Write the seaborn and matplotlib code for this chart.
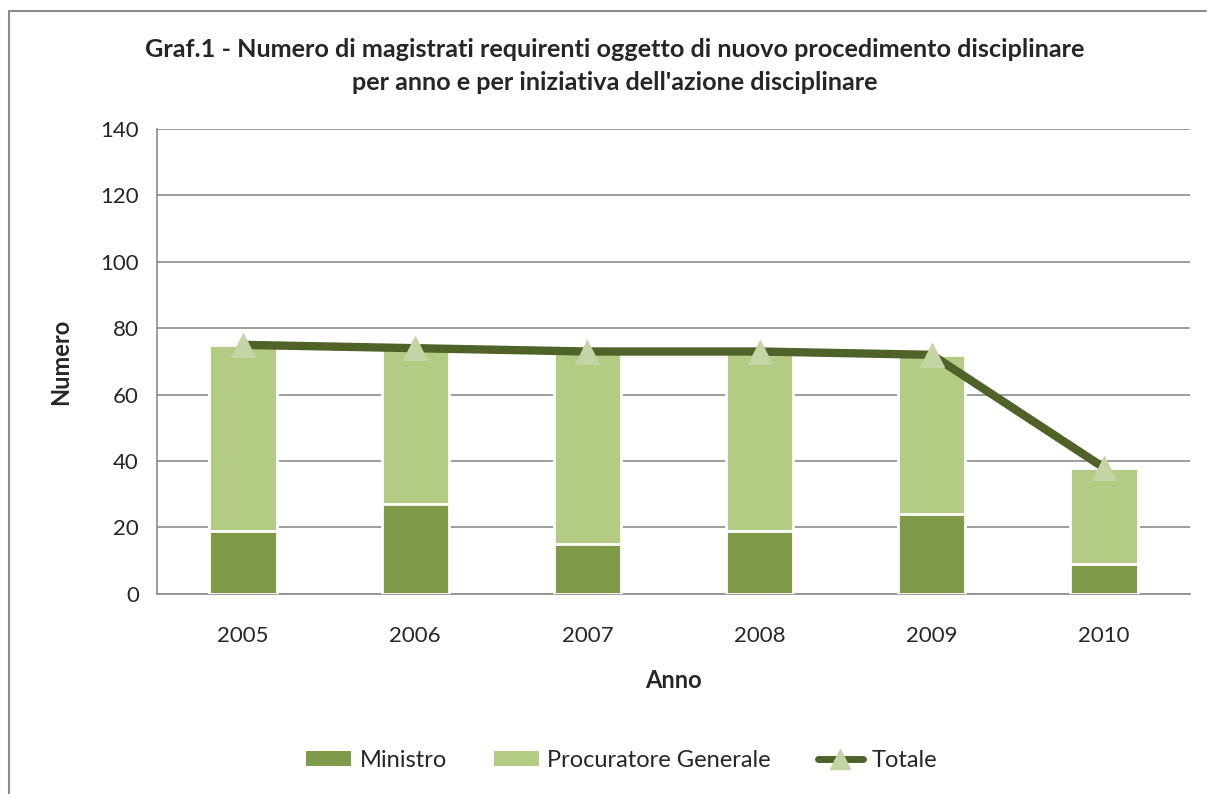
import matplotlib
matplotlib.use("Agg")
import matplotlib.pyplot as plt
import seaborn as sns
import pandas as pd
from matplotlib.patches import Patch
from matplotlib.lines import Line2D

# values
anni = ["2005", "2006", "2007", "2008", "2009", "2010"]
ministro = [19, 27, 15, 19, 24, 9]
procuratore = [56, 47, 58, 54, 48, 29]
totale = [75, 74, 73, 73, 72, 38]

df = pd.DataFrame({"Anno": anni, "Ministro": ministro,
                   "Procuratore": procuratore, "Totale": totale})
df["Stack"] = df["Ministro"] + df["Procuratore"]

C_MIN = "#7f9a48"
C_PG = "#b3cb83"
C_LINE = "#4f6228"
C_MARK = "#c3d4a5"
C_GRID = "#8c8c8c"

sns.set_style("white")
plt.rcParams["font.family"] = ["Lato", "DejaVu Sans"]

fig = plt.figure(figsize=(12.07, 7.94), dpi=100)
ax = fig.add_axes([0.130, 0.252, 0.856, 0.5855])

# stacked bars: full height (light) first, Ministro (dark) over it
sns.barplot(data=df, x="Anno", y="Stack", color=C_PG, width=0.39,
            edgecolor="white", linewidth=2, saturation=1, ax=ax, zorder=3)
sns.barplot(data=df, x="Anno", y="Ministro", color=C_MIN, width=0.39,
            edgecolor="white", linewidth=2, saturation=1, ax=ax, zorder=4)
sns.lineplot(data=df, x="Anno", y="Totale", color=C_LINE, linewidth=6,
             marker="^", markersize=17, markerfacecolor=C_MARK,
             markeredgecolor=C_MARK, ax=ax, zorder=5, sort=False)

ax.set_ylim(0, 140)
ax.set_yticks(range(0, 141, 20))
ax.set_xlim(-0.5, len(anni) - 0.5)
ax.yaxis.grid(True, color=C_GRID, linewidth=1.2, zorder=0)
ax.set_axisbelow(True)
for s in ["top", "right"]:
    ax.spines[s].set_visible(False)
for s in ["left", "bottom"]:
    ax.spines[s].set_color(C_GRID)
    ax.spines[s].set_linewidth(1.2)

# x ticks between categories like Excel
ax.set_xticks(range(len(anni)))
ax.set_xticklabels(anni)
ax.set_xticks([i - 0.5 for i in range(len(anni) + 1)], minor=True)
ax.tick_params(axis="x", which="major", length=0, labelsize=16, pad=23)
ax.tick_params(axis="x", which="minor", length=8, color=C_GRID, width=1.2)
ax.tick_params(axis="y", length=7, color=C_GRID, width=1.2,
               labelsize=16, pad=6)

ax.set_xlabel("Anno", fontsize=17, fontweight="bold", labelpad=17)
ax.set_ylabel("Numero", fontsize=17, fontweight="bold", labelpad=20)

fig.text(0.509, 0.938, "Graf.1 - Numero di magistrati requirenti oggetto di nuovo procedimento disciplinare",
         ha="center", va="center", fontsize=18.2, fontweight="bold")
fig.text(0.509, 0.896, "per anno e per iniziativa dell'azione disciplinare",
         ha="center", va="center", fontsize=18.2, fontweight="bold")

handles = [Patch(facecolor=C_MIN, edgecolor="none"),
           Patch(facecolor=C_PG, edgecolor="none"),
           Line2D([0], [0], color=C_LINE, linewidth=5, marker="^",
                  markersize=14, markerfacecolor=C_MARK, markeredgecolor=C_MARK)]
fig.legend(handles, ["Ministro", "Procuratore Generale", "Totale"],
           loc="center", bbox_to_anchor=(0.515, 0.042), ncol=3,
           frameon=False, fontsize=17, handlelength=1.9, handleheight=0.6,
           handletextpad=0.35, columnspacing=2.0)

# outer chart border (top and left edges visible)
fig.add_artist(Line2D([9 / 1207, 1206 / 1207], [1 - 10.5 / 794] * 2,
                      transform=fig.transFigure, color=C_GRID, linewidth=1.5))
fig.add_artist(Line2D([9 / 1207] * 2, [0, 1 - 10.5 / 794],
                      transform=fig.transFigure, color=C_GRID, linewidth=1.5))

fig.savefig("out.png", dpi=100)
